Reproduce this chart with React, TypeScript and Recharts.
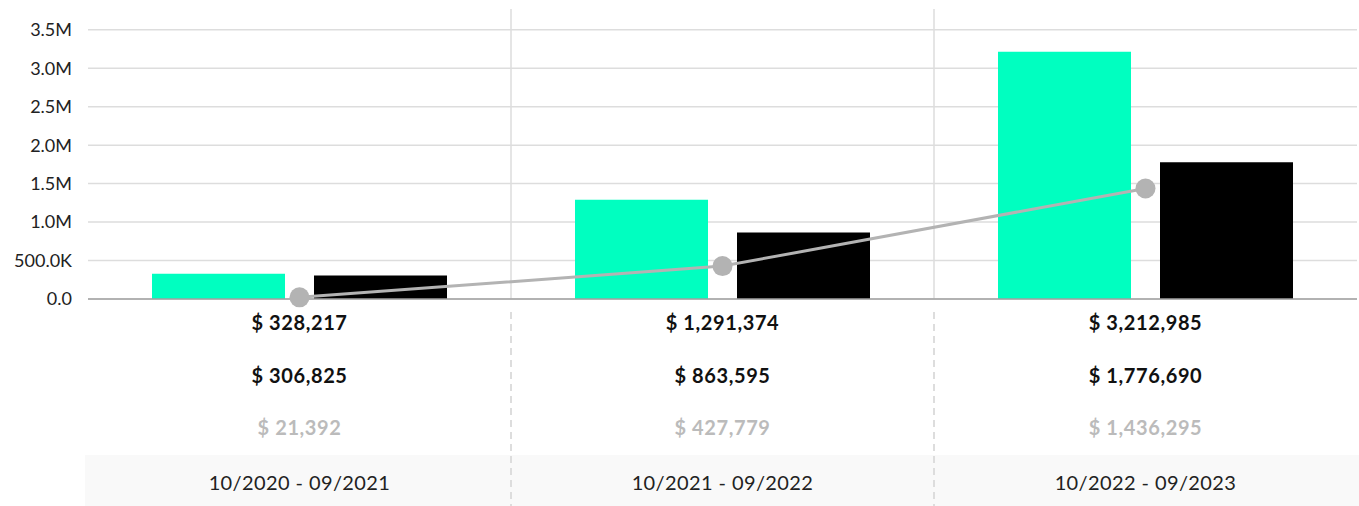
import {
  ComposedChart,
  Bar,
  Line,
  XAxis,
  YAxis,
  CartesianGrid,
} from "recharts";

const periods = ["10/2020 - 09/2021", "10/2021 - 09/2022", "10/2022 - 09/2023"];
const revenue = [328217, 1291374, 3212985];
const costs = [306825, 863595, 1776690];
const profit = [21392, 427779, 1436295];
const yTicks = [0, 500000, 1000000, 1500000, 2000000, 2500000, 3000000, 3500000];
const yMax = 3770000;

const data = periods.map((period, i) => ({
  period,
  revenue: revenue[i],
  costs: costs[i],
  profit: profit[i],
}));

const FONT = "Lato, 'Noto Sans', sans-serif";
const WIDTH = 1359;
const HEIGHT = 506;
const margin = { top: 9, right: 2, left: 0, bottom: 0 };
const yAxisWidth = 88;
const plotWidth = WIDTH - margin.left - margin.right - yAxisWidth;
const catWidth = plotWidth / periods.length;

const money = (v: number) => "$ " + v.toLocaleString("en-US");

const formatY = (v: number) => {
  if (v === 0) return "0.0";
  if (v >= 1000000) return (v / 1000000).toFixed(1) + "M";
  return (v / 1000).toFixed(1) + "K";
};

const PeriodTick = (props: any) => {
  const { x, y, payload, index } = props;
  const i = index ?? 0;
  const left = x - catWidth / 2;
  // band slightly wider at the outer ends, like the original table
  const bandLeft = i === 0 ? left - 3 : left;
  const bandRight = i === periods.length - 1 ? left + catWidth + 2 : left + catWidth;
  const valueStyle = { letterSpacing: "0.6px" };
  return (
    <g>
      <text x={x} y={y + 31} textAnchor="middle" fontFamily={FONT} fontWeight={700} fontSize={20} fill="#111" style={valueStyle}>
        {money(revenue[i])}
      </text>
      <text x={x} y={y + 84} textAnchor="middle" fontFamily={FONT} fontWeight={700} fontSize={20} fill="#111" style={valueStyle}>
        {money(costs[i])}
      </text>
      <text x={x} y={y + 136} textAnchor="middle" fontFamily={FONT} fontWeight={700} fontSize={20} fill="#bbbbbb" style={valueStyle}>
        {money(profit[i])}
      </text>
      <rect x={bandLeft} y={y + 156} width={bandRight - bandLeft} height={51} fill="#f9f9f9" />
      <text x={x} y={y + 191} textAnchor="middle" fontFamily={FONT} fontSize={20} fill="#222" style={{ letterSpacing: "0.4px" }}>
        {payload.value}
      </text>
      {i > 0 && (
        <line x1={left} x2={left} y1={y + 13} y2={y + 207} stroke="#dddddd" strokeWidth={2} strokeDasharray="7 5" />
      )}
    </g>
  );
};

export default function App() {
  return (
    <div style={{ position: "absolute", left: 0, top: 0 }}>
      <ComposedChart width={WIDTH} height={HEIGHT} data={data} margin={margin} barGap={29}>
        <CartesianGrid
          stroke="#dddddd"
          strokeWidth={1.5}
          horizontalCoordinatesGenerator={({ offset }: any) =>
            yTicks.map((t) => offset.top + offset.height * (1 - t / yMax))
          }
          verticalCoordinatesGenerator={({ offset }: any) =>
            periods.slice(1).map((_, i) => offset.left + ((i + 1) * offset.width) / periods.length)
          }
        />
        <XAxis
          dataKey="period"
          height={207}
          interval={0}
          tickLine={false}
          tickSize={0}
          tickMargin={0}
          axisLine={{ stroke: "#a0a0a0", strokeWidth: 1.5 }}
          tick={<PeriodTick />}
        />
        <YAxis
          width={yAxisWidth}
          domain={[0, yMax]}
          ticks={yTicks}
          tickFormatter={formatY}
          axisLine={false}
          tickLine={false}
          tickSize={0}
          tickMargin={16}
          tick={{ fontFamily: FONT, fontSize: 18, fill: "#222" }}
        />
        <Bar dataKey="revenue" fill="#00ffc0" barSize={133} isAnimationActive={false} />
        <Bar dataKey="costs" fill="#000000" barSize={133} isAnimationActive={false} />
        <Line
          type="linear"
          dataKey="profit"
          stroke="#b3b3b3"
          strokeWidth={3}
          dot={{ r: 10, fill: "#b3b3b3", stroke: "none" }}
          activeDot={false}
          isAnimationActive={false}
        />
      </ComposedChart>
    </div>
  );
}
